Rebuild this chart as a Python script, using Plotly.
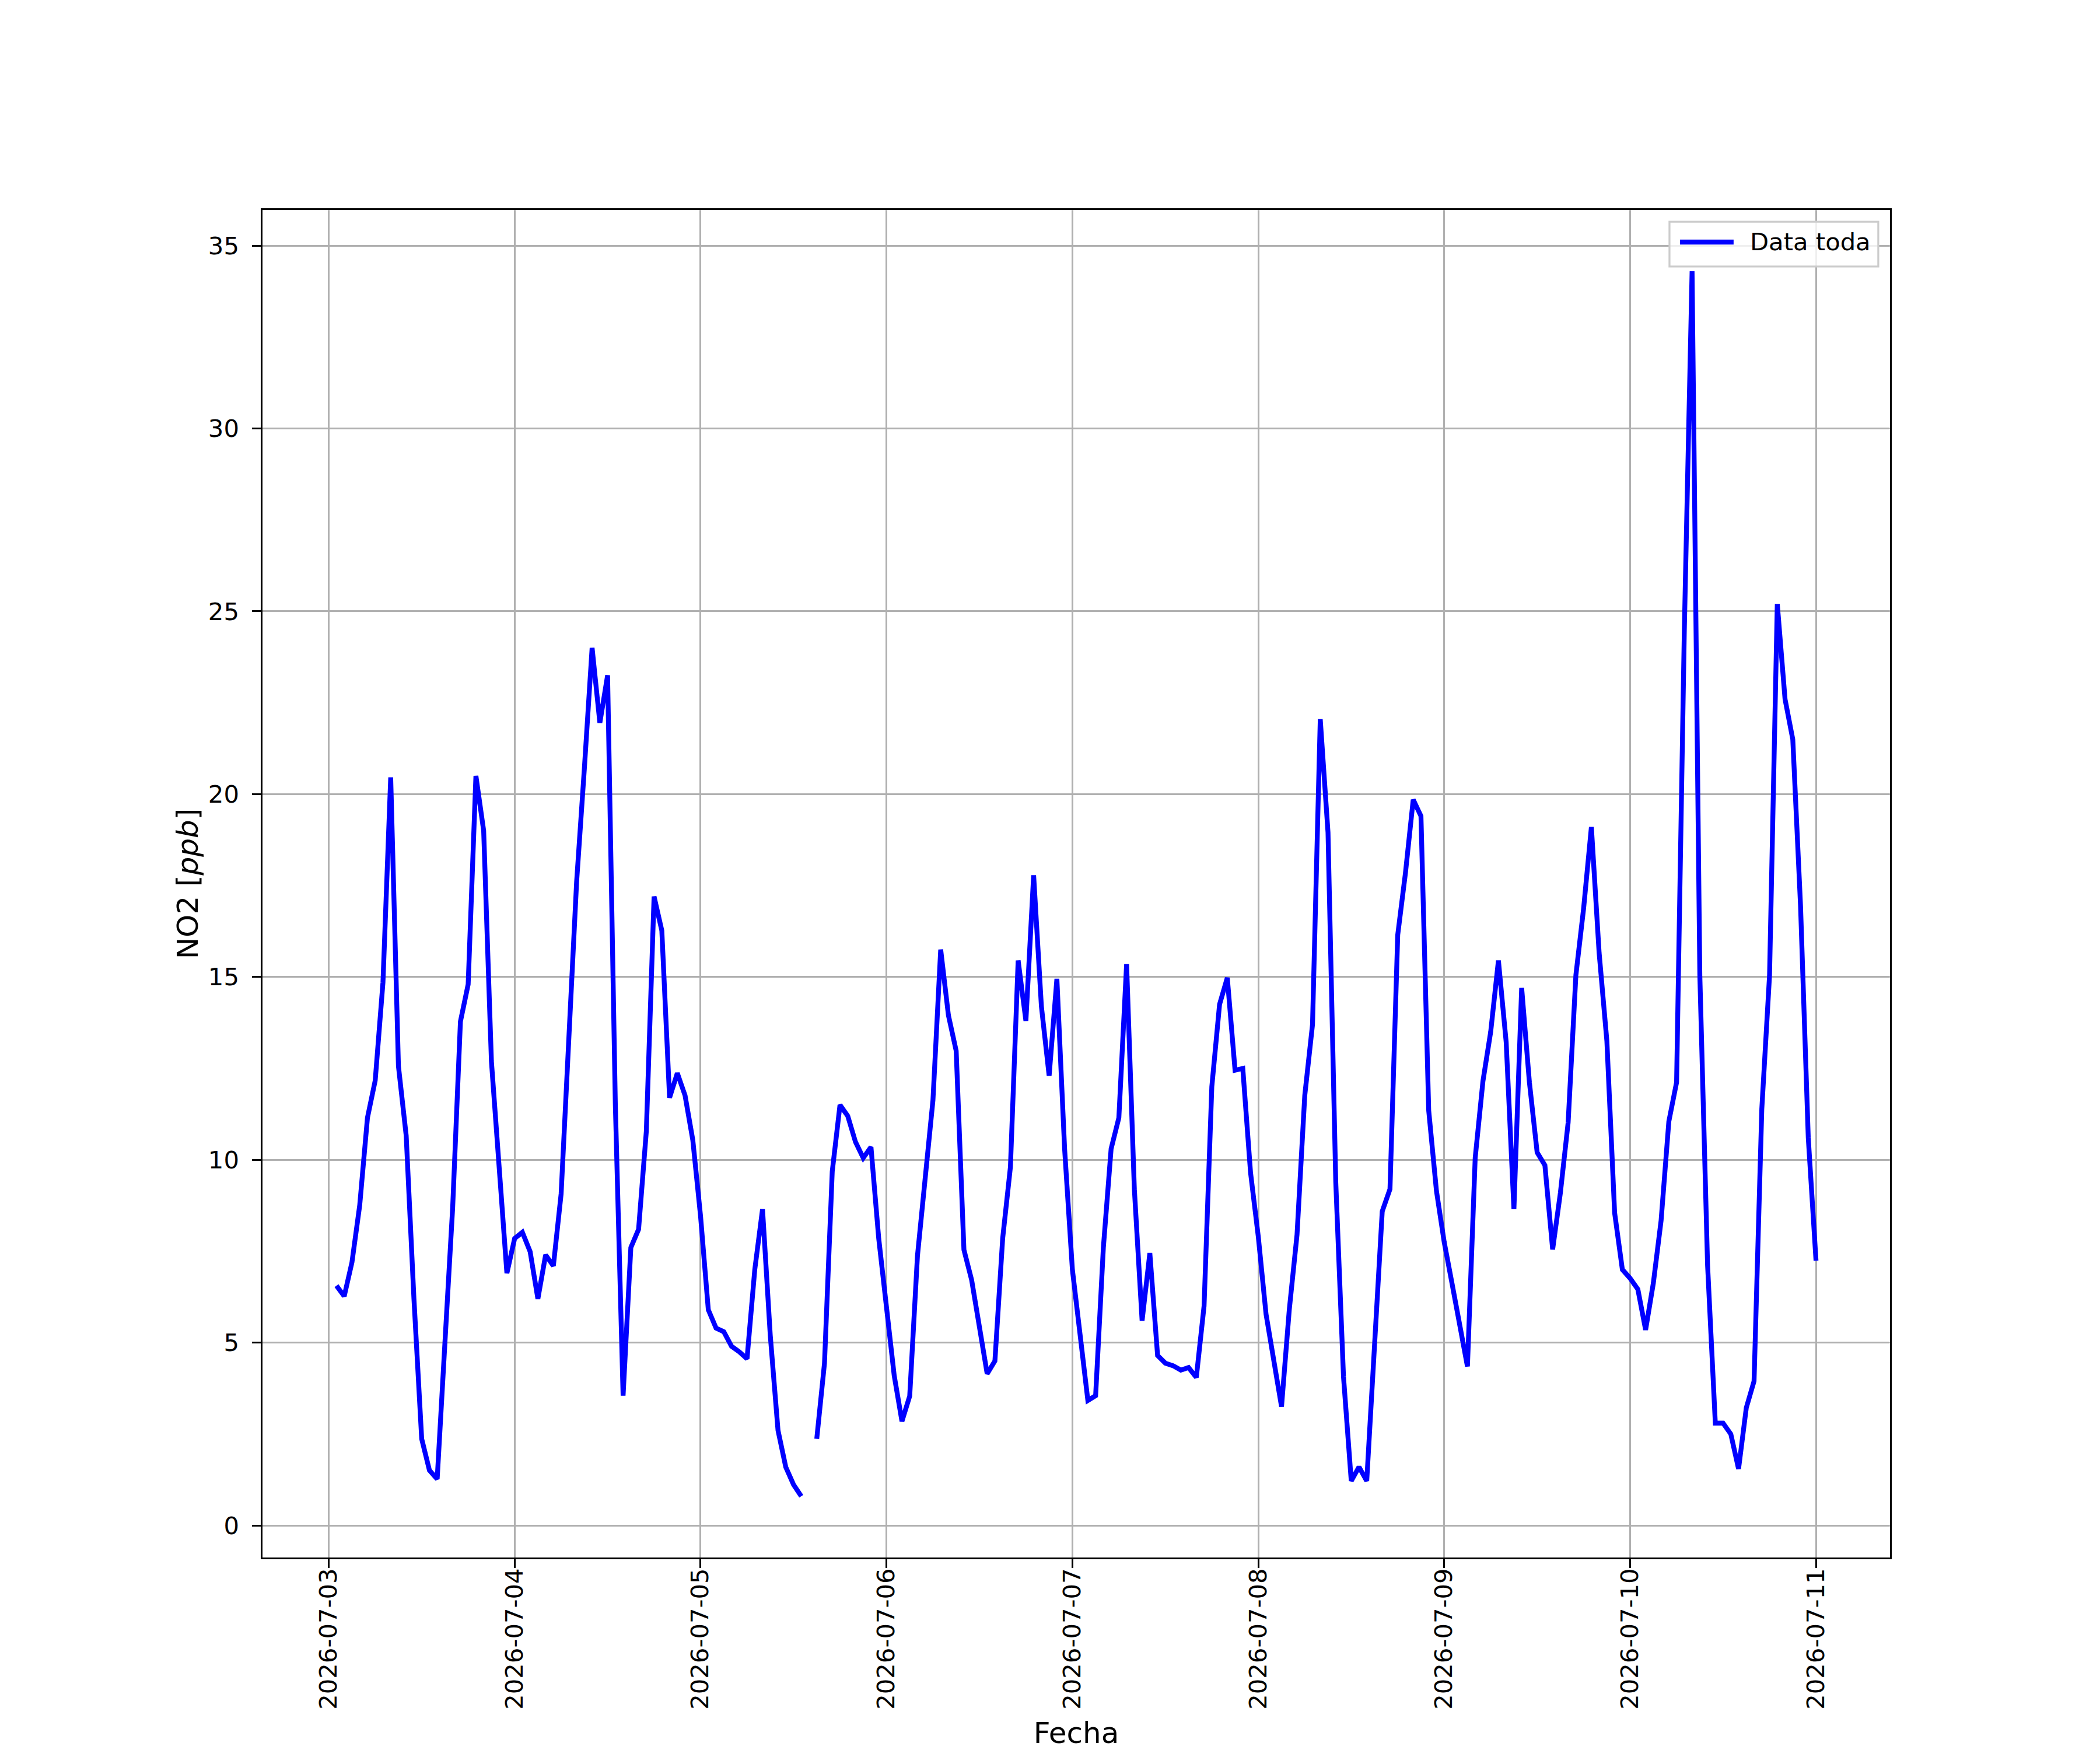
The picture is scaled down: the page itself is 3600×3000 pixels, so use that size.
import pandas as pd
import plotly.graph_objects as go

# NO2 hourly values [ppb], one list per day (hour by hour)
no2_jul03 = [6.56, 6.27, 7.2, 8.76, 11.15, 12.17, 14.85, 20.46, 12.56, 10.66, 6.2,
             2.37, 1.51, 1.27, 5.0, 8.7, 13.78, 14.8, 20.5, 19.0, 12.7, 9.9, 6.9]          # 01:00-23:00
no2_jul04 = [7.85, 8.02, 7.49, 6.2, 7.4, 7.1, 9.07, 13.6, 17.6, 20.7, 24.0, 21.95,
             23.25, 11.5, 3.55, 7.6, 8.1, 10.78, 17.2, 16.27, 11.7, 12.37, 11.76, 10.54]
no2_jul05 = [8.46, 5.9, 5.4, 5.3, 4.9, 4.75, 4.56, 7.0, 8.65, 5.2, 2.6, 1.6,
             1.12, 0.8, None, 2.37, 4.44, 9.68, 11.5, 11.2, 10.49, 10.05, 10.35, 7.85]
no2_jul06 = [5.9, 4.1, 2.85, 3.54, 7.37, 9.44, 11.63, 15.75, 13.95, 12.98, 7.54, 6.71,
             5.49, 4.15, 4.5, 7.85, 9.8, 15.45, 13.8, 17.78, 14.2, 12.3, 14.95, 10.29]
no2_jul07 = [7.0, 5.2, 3.42, 3.55, 7.6, 10.3, 11.15, 15.35, 9.2, 5.6, 7.45, 4.65,
             4.44, 4.37, 4.25, 4.32, 4.05, 6.0, 12.0, 14.25, 14.98, 12.45, 12.5, 9.65]
no2_jul08 = [7.9, 5.78, 4.5, 3.25, 5.9, 7.95, 11.76, 13.7, 22.05, 18.95, 9.4, 4.07,
             1.22, 1.6, 1.22, 4.9, 8.59, 9.2, 16.15, 17.85, 19.85, 19.4, 11.35, 9.15]
no2_jul09 = [7.75, 6.63, 5.54, 4.35, 10.05, 12.15, 13.5, 15.45, 13.22, 8.65, 14.7, 12.12,
             10.2, 9.85, 7.55, 9.1, 11.02, 15.05, 16.88, 19.1, 15.66, 13.25, 8.55, 7.0]
no2_jul10 = [6.76, 6.46, 5.35, 6.63, 8.34, 11.05, 12.12, 24.5, 34.3, 15.05, 7.12, 2.8,
             2.8, 2.5, 1.55, 3.22, 3.95, 11.39, 15.05, 25.2, 22.6, 21.5, 16.95, 10.6]
no2_jul11 = [7.24]                                                                        # 00:00

ytick_vals = [0, 5, 10, 15, 20, 25, 30, 35]
day_ticks = ['2026-07-03', '2026-07-04', '2026-07-05', '2026-07-06', '2026-07-07',
             '2026-07-08', '2026-07-09', '2026-07-10', '2026-07-11']

no2 = (no2_jul03 + no2_jul04 + no2_jul05 + no2_jul06 + no2_jul07
       + no2_jul08 + no2_jul09 + no2_jul10 + no2_jul11)
fechas = pd.date_range('2026-07-03 01:00', periods=len(no2), freq='h')

# matplotlib style 5% margins
span = fechas[-1] - fechas[0]
x_range = [fechas[0] - 0.05 * span, fechas[-1] + 0.05 * span]
vals = [v for v in no2 if v is not None]
vspan = max(vals) - min(vals)
y_range = [min(vals) - 0.05 * vspan, max(vals) + 0.05 * vspan]

FONT = 'DejaVu Sans'
TICK = 41.7
LABEL = 50
LW = 3.3

fig = go.Figure()
fig.add_trace(go.Scatter(
    x=fechas, y=no2, mode='lines', name='Data toda',
    line=dict(color='blue', width=8.3), connectgaps=False, showlegend=False
))

# page body has an 8px default margin, so the figure is 8px smaller
fig.update_layout(
    width=3592, height=2992,
    margin=dict(l=442, r=360, t=352, b=330),
    paper_bgcolor='white', plot_bgcolor='white',
    font=dict(family=FONT, size=TICK, color='black'),
)

fig.update_xaxes(
    range=x_range, tickvals=pd.to_datetime(day_ticks), ticktext=day_ticks,
    tickangle=-90, ticks='outside', ticklen=14.6, tickwidth=LW, tickcolor='black',
    ticklabelstandoff=-16,
    showline=True, mirror=True, linecolor='black', linewidth=LW,
    showgrid=True, gridcolor='#b0b0b0', gridwidth=LW, zeroline=False,
    title=dict(text='Fecha', font=dict(size=LABEL), standoff=24),
    automargin=False,
)
fig.update_yaxes(
    range=y_range, tickvals=ytick_vals, ticks='outside', ticklen=14.6,
    tickwidth=LW, tickcolor='black', ticklabelstandoff=14,
    showline=True, mirror=True, linecolor='black', linewidth=LW,
    showgrid=True, gridcolor='#b0b0b0', gridwidth=LW, zeroline=False,
    title=dict(text='NO2 [<i>ppb</i>]', font=dict(size=LABEL), standoff=2),
    automargin=False,
)

# legend box drawn like matplotlib's (upper right, long line sample)
fig.add_shape(type='rect', xref='paper', yref='paper',
              x0=0.8645, x1=0.9928, y0=0.9581, y1=0.9913,
              line=dict(color='#cccccc', width=LW), fillcolor='rgba(255,255,255,0.8)')
fig.add_shape(type='line', xref='paper', yref='paper',
              x0=0.8710, x1=0.9039, y0=0.9762, y1=0.9762,
              line=dict(color='blue', width=8.3))
fig.add_annotation(text='Data toda', xref='paper', yref='paper',
                   x=0.9133, y=0.9762, xanchor='left', yanchor='middle',
                   showarrow=False, font=dict(size=TICK, color='black'))

fig.write_html('out.html')
